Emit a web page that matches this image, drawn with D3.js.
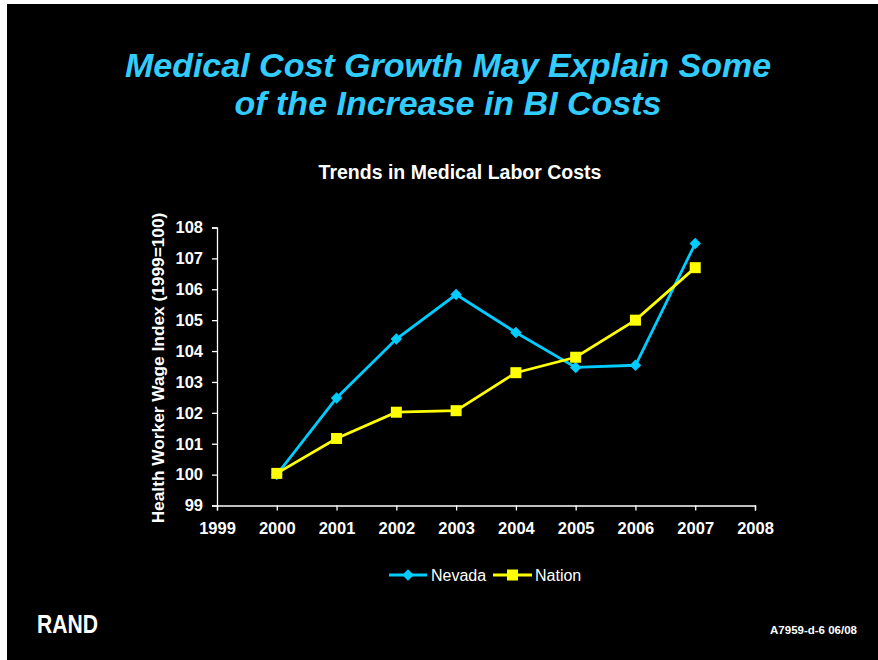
<!DOCTYPE html>
<html><head><meta charset="utf-8">
<script src="https://cdn.jsdelivr.net/npm/d3@7"></script>
<style>
html,body{margin:0;padding:0;background:#fff;}
svg{display:block;}
text{font-family:Arial,"Liberation Sans",sans-serif;}
</style></head>
<body>
<script>
const years = [2000, 2001, 2002, 2003, 2004, 2005, 2006, 2007];
const nevada = [100.0, 102.48, 104.39, 105.83, 104.6, 103.47, 103.54, 107.48];
const nation = [100.04, 101.17, 102.02, 102.07, 103.3, 103.8, 105.0, 106.7];
const xTicks = [1999, 2000, 2001, 2002, 2003, 2004, 2005, 2006, 2007, 2008];
const yTicks = [99, 100, 101, 102, 103, 104, 105, 106, 107, 108];
const titleLines = ["Medical Cost Growth May Explain Some", "of the Increase in BI Costs"];
const chartTitle = "Trends in Medical Labor Costs";
const yLabel = "Health Worker Wage Index (1999=100)";
const seriesNames = ["Nevada", "Nation"];

const W = 878, H = 660;
const svg = d3.select("body").append("svg").attr("width", W).attr("height", H);
svg.append("rect").attr("x", 7).attr("y", 4).attr("width", W - 7).attr("height", H - 4).attr("fill", "#000");

const cyan = "#00CCFF", titleCyan = "#33CCFF", yellow = "#FFFF00";

svg.selectAll("text.title").data(titleLines).enter().append("text")
  .attr("x", 448).attr("y", (d, i) => 77 + i * 38)
  .attr("text-anchor", "middle").attr("fill", titleCyan)
  .attr("font-size", 34).attr("font-weight", "bold").attr("font-style", "italic")
  .text(d => d);

svg.append("text").attr("x", 460).attr("y", 179).attr("text-anchor", "middle")
  .attr("fill", "#fff").attr("font-size", 19.5).attr("font-weight", "bold").text(chartTitle);

const x = d3.scaleLinear().domain([1999, 2008]).range([217, 755]);
const y = d3.scaleLinear().domain([99, 108]).range([505.5, 227.5]);

const xAxis = svg.append("g").attr("transform", "translate(0,505.5)")
  .call(d3.axisBottom(x).tickValues(xTicks).tickFormat(d3.format("d")).tickSize(5).tickPadding(9));
const yAxis = svg.append("g").attr("transform", "translate(217,0)")
  .call(d3.axisLeft(y).tickValues(yTicks).tickFormat(d3.format("d")).tickSize(5).tickPadding(9));
[xAxis, yAxis].forEach(g => {
  g.select(".domain").attr("stroke", "#fff").attr("stroke-width", 1.3);
  g.selectAll(".tick line").attr("stroke", "#fff").attr("stroke-width", 1.3);
  g.selectAll("text").attr("fill", "#fff").attr("font-size", 16.5).attr("font-weight", "bold")
    .attr("font-family", "Arial, 'Liberation Sans', sans-serif");
});
xAxis.selectAll("text").attr("dy", "0.85em");

svg.append("text").attr("transform", "translate(164,368) rotate(-90)")
  .attr("text-anchor", "middle").attr("fill", "#fff").attr("font-size", 17.3).attr("font-weight", "bold")
  .text(yLabel);

const line = d3.line().x((d, i) => x(years[i])).y(d => y(d));
svg.append("path").datum(nevada).attr("d", line).attr("fill", "none").attr("stroke", cyan).attr("stroke-width", 2.8);
svg.append("path").datum(nation).attr("d", line).attr("fill", "none").attr("stroke", yellow).attr("stroke-width", 2.8);

const diamond = d3.symbol().type(d3.symbolSquare).size(66);
svg.selectAll("path.nv").data(nevada).enter().append("path")
  .attr("d", diamond())
  .attr("transform", (d, i) => `translate(${x(years[i])},${y(d)}) rotate(45)`)
  .attr("fill", cyan);
svg.selectAll("rect.na").data(nation).enter().append("rect")
  .attr("x", (d, i) => x(years[i]) - 5.5).attr("y", d => y(d) - 5.5)
  .attr("width", 11).attr("height", 11).attr("fill", yellow);

// legend
const leg = svg.append("g");
leg.append("line").attr("x1", 389).attr("x2", 427).attr("y1", 575).attr("y2", 575).attr("stroke", cyan).attr("stroke-width", 2.8);
leg.append("path").attr("d", diamond()).attr("transform", "translate(408,575) rotate(45)").attr("fill", cyan);
leg.append("text").attr("x", 431).attr("y", 581).attr("fill", "#fff").attr("font-size", 16).text(seriesNames[0]);
leg.append("line").attr("x1", 493).attr("x2", 532).attr("y1", 575).attr("y2", 575).attr("stroke", yellow).attr("stroke-width", 2.8);
leg.append("rect").attr("x", 507).attr("y", 569.5).attr("width", 11).attr("height", 11).attr("fill", yellow);
leg.append("text").attr("x", 535).attr("y", 581).attr("fill", "#fff").attr("font-size", 16).text(seriesNames[1]);

// footer
svg.append("text").attr("x", 37).attr("y", 633).attr("fill", "#fff").attr("font-size", 25).attr("font-weight", "bold")
  .attr("textLength", 61).attr("lengthAdjust", "spacingAndGlyphs").text("RAND");
svg.append("text").attr("x", 857).attr("y", 634).attr("text-anchor", "end").attr("fill", "#fff")
  .attr("font-size", 11.5).attr("font-weight", "bold").text("A7959-d-6  06/08");
</script>
</body></html>
